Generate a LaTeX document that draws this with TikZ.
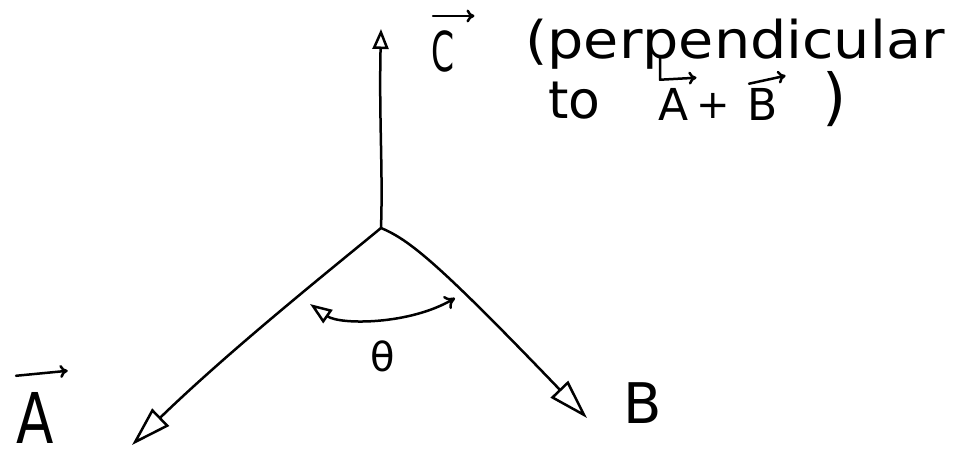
\documentclass[tikz,border=0pt]{standalone}
\usepackage{fontspec}
\setmainfont{DejaVu Sans}
\usetikzlibrary{arrows.meta}
\begin{document}
\begin{tikzpicture}[x=1pt,y=-1pt,
  vec/.style={line width=2.5pt, line cap=round, line join=round},
  small/.style={line width=2.5pt, line cap=round, line join=round, -{>[length=8pt,width=13pt]}},
  txt/.style={inner sep=0pt, anchor=base west}]
\useasboundingbox (0,0) rectangle (973,451);
\coordinate (O) at (381,228);
\coordinate (Ct) at (381,29);
\coordinate (At) at (132,445);
\coordinate (Bt) at (587,418);
\draw[vec, -{Triangle[open,length=20pt,width=16pt]}] (O) .. controls (383,170) and (379,120) .. (Ct);
\draw[vec, -{Triangle[open,length=40pt,width=24pt]}] (O) .. controls (330,270) and (230,350) .. (At);
\draw[vec, -{Triangle[open,length=40pt,width=24pt]}] (O) .. controls (410,240) and (440,265) .. (Bt);
\coordinate (T1) at (310,304);
\coordinate (T2) at (455,298);
\draw[vec, {Triangle[open,length=22pt,width=16pt]}-{>[length=10pt,width=15pt]}] (T1) .. controls (340,325) and (410,325) .. (T2);
% labels
\node[inner sep=0pt, font=\fontsize{40}{44}\selectfont] (theta) at (383,356) {θ};
\node[txt, font=\fontsize{70}{74}\selectfont] (Alab) at (16,443) {\scalebox{0.78}[1]{A}};
\draw[small] ([xshift=0pt,yshift=16pt]Alab.north west) -- ([xshift=14pt,yshift=21pt]Alab.north east);
\node[txt, font=\fontsize{56}{60}\selectfont] (Blab) at (623,423) {B};
\node[txt, font=\fontsize{55}{60}\selectfont] (Clab) at (431,71) {\scalebox{0.6}[1]{C}};
\draw[small] ([xshift=2pt,yshift=14pt]Clab.north west) -- ([xshift=20pt,yshift=14pt]Clab.north east);
\node[txt, font=\fontsize{52}{56}\selectfont] (perp) at (525,58) {\scalebox{1.1}[1]{(perpendicular}};
\node[txt, font=\fontsize{52}{56}\selectfont] (to) at (548,118) {to};
\node[txt, font=\fontsize{44}{48}\selectfont] (A2) at (658,120) {A};
\node[txt, font=\fontsize{40}{44}\selectfont] (plus) at (696,118) {+};
\node[txt, font=\fontsize{44}{48}\selectfont] (B2) at (747,120) {B};
\node[txt, font=\fontsize{62}{66}\selectfont] (paren) at (822,118) {)};
\draw[small] ([xshift=2pt,yshift=30pt]A2.north west) -- ([xshift=2pt,yshift=8pt]A2.north west) -- ([xshift=8pt,yshift=10pt]A2.north east);
\draw[small] ([xshift=2pt,yshift=4pt]B2.north west) -- ([xshift=8pt,yshift=12pt]B2.north east);
\end{tikzpicture}
\end{document}
